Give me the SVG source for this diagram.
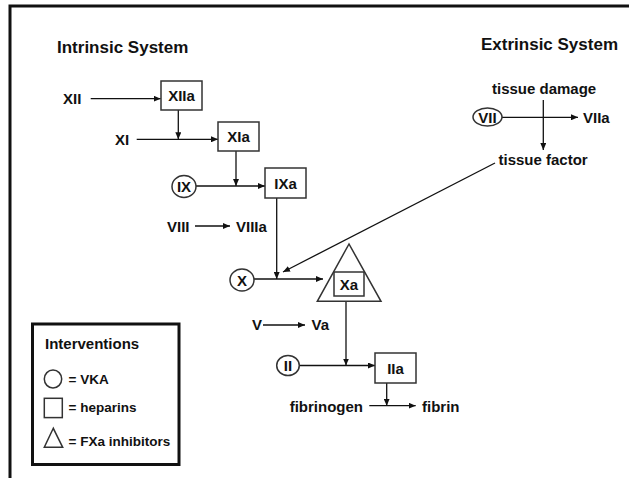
<svg xmlns="http://www.w3.org/2000/svg" width="629" height="478" viewBox="0 0 629 478">
<defs>
<marker id="ah" markerUnits="userSpaceOnUse" markerWidth="8" markerHeight="6" refX="7" refY="3" orient="auto">
<path d="M0,0 L7,3 L0,6 Z" fill="#111"/>
</marker>
</defs>
<style>
text{font-family:"Liberation Sans",Arial,sans-serif;font-weight:bold;fill:#111}
.t{font-size:17px}
.l{font-size:15px}
.s{font-size:13.5px}
.c{text-anchor:middle}
.box{fill:#fff;stroke:#333;stroke-width:1.5}
.conn line{stroke:#111;stroke-width:1.3;marker-end:url(#ah)}
.frame{fill:none;stroke:#111;stroke-width:3}
</style>
<rect width="629" height="478" fill="#fff"/>
<g id="frame">
<path class="frame" d="M10,478 V6 H629"/>
</g>
<g id="titles">
<text class="t" x="57" y="53">Intrinsic System</text>
<text class="t" x="481" y="50">Extrinsic System</text>
</g>
<g id="conns" class="conn">
<line x1="90.7" y1="98.7" x2="160.7" y2="98.7"/>
<line x1="178.3" y1="110" x2="178.3" y2="139.3"/>
<line x1="136.7" y1="139.3" x2="218" y2="139.3"/>
<line x1="236" y1="151" x2="236" y2="186"/>
<line x1="196" y1="186" x2="265" y2="186"/>
<line x1="195" y1="226" x2="230" y2="226"/>
<line x1="276.7" y1="198" x2="276.7" y2="279"/>
<line x1="254" y1="279" x2="323" y2="279"/>
<line x1="495" y1="163" x2="283" y2="272"/>
<line x1="263" y1="325" x2="305" y2="325"/>
<line x1="346" y1="301" x2="346" y2="365.5"/>
<line x1="299.5" y1="365.5" x2="375" y2="365.5"/>
<line x1="386.7" y1="383" x2="386.7" y2="405.7"/>
<line x1="369.3" y1="405.7" x2="415.7" y2="405.7"/>
<line x1="502" y1="117.3" x2="578" y2="117.3"/>
<line x1="543.3" y1="100" x2="543.3" y2="150"/>
</g>
<g id="XII"><text class="l" x="63" y="103.5">XII</text></g>
<g id="XIIa"><rect class="box" x="161" y="81" width="41" height="29"/><text class="l c" x="181.5" y="101">XIIa</text></g>
<g id="XI"><text class="l" x="115" y="144.5">XI</text></g>
<g id="XIa"><rect class="box" x="218" y="122" width="41" height="29"/><text class="l c" x="238.5" y="142">XIa</text></g>
<g id="IX"><ellipse class="box" cx="184" cy="186.5" rx="12" ry="11"/><text class="l c" x="184" y="192">IX</text></g>
<g id="IXa"><rect class="box" x="265" y="168" width="41" height="30"/><text class="l c" x="285.5" y="188.5">IXa</text></g>
<g id="VIII"><text class="l" x="167" y="231.5">VIII</text></g>
<g id="VIIIa"><text class="l" x="236" y="231.5">VIIIa</text></g>
<g id="X"><ellipse class="box" cx="242" cy="280" rx="12" ry="11"/><text class="l c" x="242" y="285.5">X</text></g>
<g id="Xa"><polygon class="box" points="349,244 317.3,301.3 381,301.3"/><rect class="box" x="334" y="272" width="30" height="24"/><text class="l c" x="349" y="289.5">Xa</text></g>
<g id="V"><text class="l" x="252" y="330">V</text></g>
<g id="Va"><text class="l" x="311.5" y="330">Va</text></g>
<g id="II"><ellipse class="box" cx="288" cy="365.5" rx="11.3" ry="10"/><text class="l c" x="288" y="371">II</text></g>
<g id="IIa"><rect class="box" x="375" y="353" width="41" height="30"/><text class="l c" x="395.5" y="373.5">IIa</text></g>
<g id="fibrinogen"><text class="l" x="363" y="411.5" text-anchor="end">fibrinogen</text></g>
<g id="fibrin"><text class="l" x="422" y="411.5">fibrin</text></g>
<g id="tissue-damage"><text class="l" x="492" y="94">tissue damage</text></g>
<g id="VII"><ellipse class="box" cx="487.5" cy="117" rx="14.5" ry="9"/><text class="l c" x="487.5" y="122.5">VII</text></g>
<g id="VIIa"><text class="l" x="583" y="122.5">VIIa</text></g>
<g id="tissue-factor"><text class="l" x="498.5" y="165">tissue factor</text></g>
<g id="legend">
<rect x="32.5" y="324" width="146.5" height="140.5" fill="#fff" stroke="#111" stroke-width="3"/>
<text class="l" x="45" y="348.5">Interventions</text>
<ellipse class="box" cx="53" cy="379" rx="8.7" ry="9"/>
<text class="s" x="68.5" y="383.5">= VKA</text>
<rect class="box" x="44.3" y="398.3" width="18" height="19.3"/>
<text class="s" x="68.5" y="412">= heparins</text>
<polygon class="box" points="53.3,428.3 44.3,447.3 62.7,447.3"/>
<text class="s" x="68.5" y="446">= FXa inhibitors</text>
</g>
</svg>
